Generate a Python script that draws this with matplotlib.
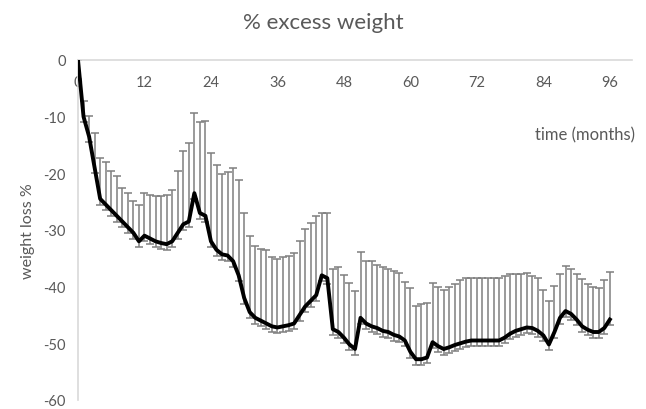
import matplotlib
matplotlib.use("Agg")
import matplotlib.pyplot as plt
import numpy as np

plt.rcParams['font.family'] = ['Lato', 'DejaVu Sans']
plt.rcParams['axes.unicode_minus'] = False

# months since surgery
months = list(range(0, 97))

# mean % excess weight loss (negative = loss)
mean_loss = [0, -10, -13.5, -19, -24.5, -25.5, -26.5, -27.5, -28.5, -29.5,
             -30.5, -32, -31, -31.5, -32, -32.3, -32.5, -32, -30.5, -29,
             -28.5, -23.5, -27, -27.5, -32, -33.5, -34.3, -34.5, -35.5, -38,
             -42, -44.5, -45.5, -46, -46.5, -47, -47.2, -47, -46.8, -46.5,
             -45, -43.5, -42.5, -41.5, -38, -38.5, -47.5, -48, -49, -50.2,
             -51, -45.5, -46.5, -47, -47.3, -47.8, -48, -48.5, -48.8, -49.5,
             -51.5, -52.8, -52.8, -52.5, -49.8, -50.5, -51, -50.7, -50.3, -50,
             -49.7, -49.5, -49.5, -49.5, -49.5, -49.5, -49.5, -49, -48.3, -47.8,
             -47.5, -47.2, -47.3, -47.8, -48.6, -50.2, -48, -45.5, -44.3, -44.8,
             -45.8, -47, -47.6, -48, -48, -47.3, -45.8]

# top of each error bar
upper = [0, -7.2, -9.9, -12.9, -17.3, -18, -19.5, -20.5, -22.6, -23.5,
         -24.9, -25.5, -23.5, -23.9, -24, -24, -23.9, -22.9, -19.5, -16,
         -14.6, -9.4, -10.9, -10.7, -16.4, -18.6, -20.1, -19.8, -19.1, -21.1,
         -27, -31.1, -32.8, -33.4, -33.6, -34.8, -35.1, -34.8, -34.5, -34.1,
         -31.9, -29.9, -28.8, -27.5, -27, -27, -36.8, -36.5, -38, -39.4,
         -40.7, -33.9, -35.4, -35.4, -36.2, -36.6, -36.9, -37.3, -37.6, -39.1,
         -40.3, -43.4, -43.1, -42.8, -39.4, -40.1, -40.5, -40.1, -39.5, -38.8,
         -38.4, -38.5, -38.5, -38.4, -38.4, -38.5, -38.5, -38.2, -37.8, -37.8,
         -37.8, -37.5, -38.2, -38.5, -40.5, -42.6, -39.8, -37.8, -36.3, -36.9,
         -37.8, -38.7, -39.5, -40, -40.3, -38.9, -37.4]

lower_err = 1.0

x_ticks = [0, 12, 24, 36, 48, 60, 72, 84, 96]
y_ticks = [0, -10, -20, -30, -40, -50, -60]

grey = '#595959'

fig = plt.figure(figsize=(6.46, 4.10), dpi=100)
ax = fig.add_axes([78/646, 9/410, 554/646, 340/410])

m = np.array(mean_loss)
up = np.array(upper) - m
lo = np.full(len(m), lower_err)
lo[0] = 0
ax.errorbar(months, m, yerr=[lo, up], fmt='none', ecolor='#7f7f7f',
            elinewidth=1.1, capsize=3, capthick=1.1, zorder=2)
ax.plot(months, mean_loss, color='black', lw=2.8, zorder=3)

ax.set_xlim(0, 100)
ax.set_ylim(-60, 0)
ax.set_xticks(x_ticks)
ax.set_yticks(y_ticks)
ax.tick_params(axis='x', top=True, labeltop=True, bottom=False, labelbottom=False,
               length=0, pad=-21, labelsize=10.5, labelcolor=grey)
ax.tick_params(axis='y', length=0, pad=9, labelsize=10.5, labelcolor=grey)

for s in ['right', 'bottom']:
    ax.spines[s].set_visible(False)
ax.spines['top'].set_color('#d9d9d9')
ax.spines['left'].set_color('#d9d9d9')
ax.spines['top'].set_linewidth(1.2)
ax.spines['left'].set_linewidth(1.2)

ax.set_ylabel('weight loss %', fontsize=11.5, color=grey, labelpad=6)
ax.text(0.915, 0.78, 'time (months)', transform=ax.transAxes, ha='center',
        va='center', fontsize=12, color=grey)
fig.text(0.5, 0.945, '% excess weight', ha='center', va='center',
         fontsize=16, color=grey)

fig.savefig('out.png', dpi=100)
